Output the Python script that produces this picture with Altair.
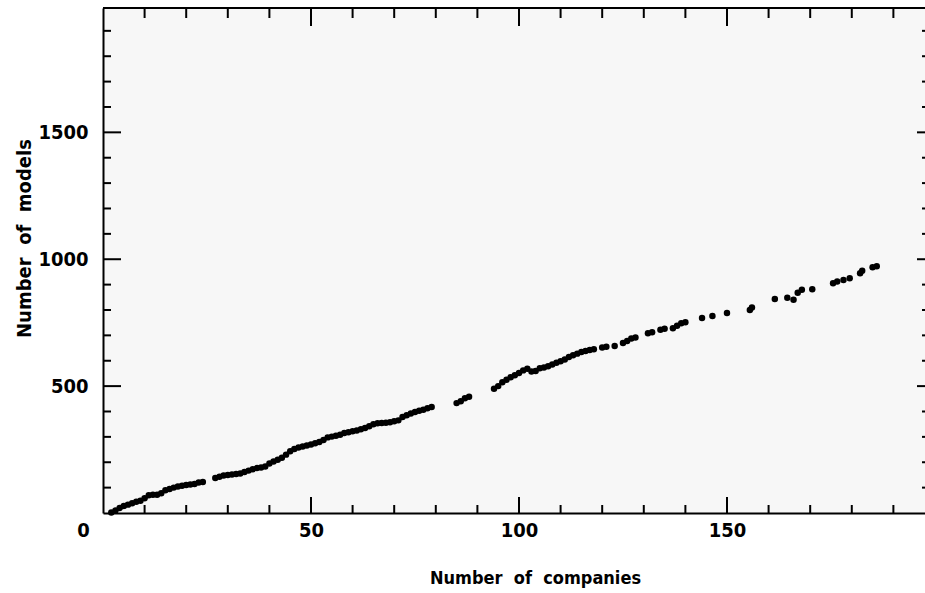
import altair as alt
import pandas as pd

# Cumulative number of models against cumulative number of companies
companies = [2, 3, 4, 5, 6, 7, 8, 9, 10, 11, 12, 13, 14, 15, 16, 17, 18, 19, 20,
             21, 22, 23, 24, 27, 28, 29, 30, 31, 32, 33, 34, 35, 36, 37, 38, 39,
             40, 41, 42, 43, 44, 45, 46, 47, 48, 49, 50, 51, 52, 53, 54, 55, 56,
             57, 58, 59, 60, 61, 62, 63, 64, 65, 66, 67, 68, 69, 70, 71, 72, 73,
             74, 75, 76, 77, 78, 79, 85, 86, 87, 88, 94, 95, 96, 97, 98, 99, 100,
             101, 102, 103, 104, 105, 106, 107, 108, 109, 110, 111, 112, 113, 114,
             115, 116, 117, 118, 120, 121, 123, 125, 126, 127, 128, 131, 132, 134,
             135, 137, 138, 139, 140, 144, 146.5, 150, 155.5, 156, 161.5, 164.5,
             166, 167, 168, 170.5, 175.5, 176.5, 178, 179.5, 182, 182.5, 185, 186]
models = [2, 10, 20, 28, 33, 38, 44, 48, 58, 70, 72, 72, 78, 90, 95, 100, 104, 107, 110,
          112, 114, 120, 122, 138, 143, 148, 150, 152, 154, 156, 162, 167, 172, 177, 179, 183,
          195, 203, 210, 218, 230, 243, 252, 258, 262, 266, 270, 275, 280, 288, 298, 301, 304,
          308, 315, 318, 322, 325, 330, 335, 342, 350, 354, 355, 356, 358, 362, 365, 378, 385,
          392, 398, 403, 407, 413, 418, 433, 440, 452, 458, 490, 500, 515, 525, 535, 543, 552,
          562, 568, 558, 560, 570, 573, 578, 585, 592, 598, 605, 615, 622, 628,
          634, 638, 642, 645, 652, 655, 658, 670, 678, 688, 692, 708, 712, 722,
          726, 728, 738, 748, 752, 768, 776, 788, 800, 810, 843, 848,
          840, 868, 880, 882, 905, 912, 918, 925, 945, 955, 968, 972]

# Axis tick values
x_labels = [0, 50, 100, 150]
x_major = [50, 100, 150]
x_minor = [10, 20, 30, 40, 60, 70, 80, 90, 110, 120, 130, 140, 160, 170, 180, 190]
y_labels = [500, 1000, 1500]
y_major = [500, 1000, 1500]
y_minor = [100, 200, 300, 400, 600, 700, 800, 900, 1100, 1200, 1300, 1400,
           1600, 1700, 1800, 1900]

W, H = 822, 505
FONT = "DejaVu Sans Condensed, DejaVu Sans, sans-serif"

xs = alt.Scale(domain=[0, 197.6], nice=False, zero=False)
ys = alt.Scale(domain=[0, 1990], nice=False, zero=False)

pts = pd.DataFrame({"companies": companies, "models": models})

points = alt.Chart(pts).mark_circle(size=42, color="black", opacity=1).encode(
    x=alt.X("companies:Q", scale=xs, axis=alt.Axis(
        values=x_labels, format="d", ticks=False, tickSize=0, grid=False,
        domain=True, domainColor="black", domainWidth=2,
        labelFont=FONT, labelFontSize=20, labelFontWeight="bold", labelColor="black",
        labelPadding=7, labelFlush=False,
        labelOffset={"condition": {"test": "datum.value === 0", "value": -20}, "value": 0},
        title="Number\u00a0\u00a0of\u00a0\u00a0companies", titleFont=FONT, titleFontSize=18,
        titleFontWeight="bold", titleColor="black",
        titleX=432, titleY=65, titleAlign="center", titleBaseline="middle")),
    y=alt.Y("models:Q", scale=ys, axis=alt.Axis(
        values=y_labels, format="d", ticks=False, tickSize=0, grid=False,
        domain=True, domainColor="black", domainWidth=2,
        labelFont=FONT, labelFontSize=20, labelFontWeight="bold", labelColor="black",
        labelPadding=15, labelFlush=False,
        title="Number\u00a0\u00a0of\u00a0\u00a0models", titleFont=FONT, titleFontSize=20,
        titleFontWeight="bold", titleColor="black", titleAngle=270,
        titleX=-79, titleY=230, titleAlign="center", titleBaseline="middle")),
)


def xticks(vals, y0, y1):
    return alt.Chart(pd.DataFrame({"v": vals})).mark_rule(color="black", strokeWidth=2).encode(
        x=alt.X("v:Q", scale=xs), y=alt.value(y0), y2=alt.value(y1))


def yticks(vals, x0, x1):
    return alt.Chart(pd.DataFrame({"v": vals})).mark_rule(color="black", strokeWidth=2).encode(
        y=alt.Y("v:Q", scale=ys), x=alt.value(x0), x2=alt.value(x1))


top_line = alt.Chart(pd.DataFrame({"a": [0]})).mark_rule(color="black", strokeWidth=2).encode(
    x=alt.value(0), x2=alt.value(W), y=alt.value(0))

chart = alt.layer(
    points,
    xticks(x_major, H - 16, H), xticks(x_minor, H - 8, H),
    xticks(x_major, 0, 18), xticks(x_minor, 0, 10),
    yticks(y_major, 0, 18), yticks(y_minor, 0, 8),
    yticks(y_major, W - 8, W), yticks(y_minor, W - 3, W),
    top_line,
).properties(
    width=W, height=H,
    autosize=alt.AutoSizeParams(type="none"),
    padding={"left": 103, "top": 8, "right": 0, "bottom": 80},
    background="white",
).configure_view(fill="#f7f7f7", stroke=None)

chart.save("out.html", embed_options={"renderer": "svg", "actions": False})
